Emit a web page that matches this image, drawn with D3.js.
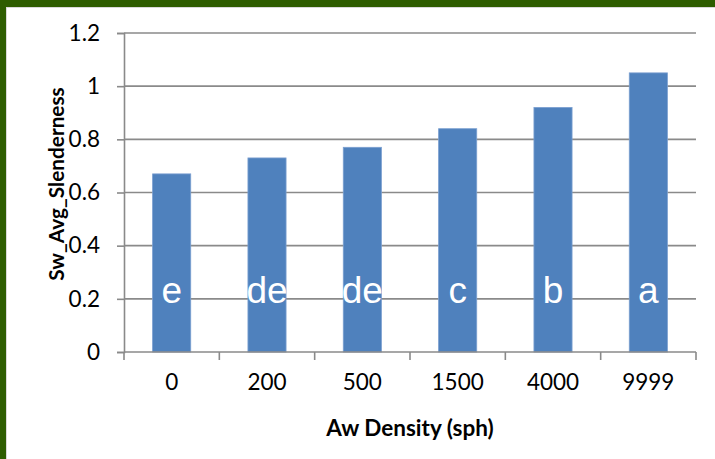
<!DOCTYPE html>
<html>
<head>
<meta charset="utf-8">
<script src="https://cdn.jsdelivr.net/npm/d3@7"></script>
<style>
  html, body { margin: 0; padding: 0; background: #ffffff; }
  svg { display: block; }
</style>
</head>
<body>
<svg id="chart" width="715" height="459"></svg>
<script>
// Aw density classes and mean slenderness of the Sw trees
const densities = ["0", "200", "500", "1500", "4000", "9999"];
const slenderness = [0.67, 0.73, 0.77, 0.84, 0.92, 1.05];
// Significance groups shown inside each bar
const groups = ["e", "de", "de", "c", "b", "a"];
const yTicks = [0, 0.2, 0.4, 0.6, 0.8, 1, 1.2];

const W = 715, H = 459;
const plot = { left: 124, right: 696, top: 33, bottom: 352 };

const svg = d3.select("#chart");

// frame
svg.append("rect").attr("x", 0).attr("y", 0).attr("width", W).attr("height", H).attr("fill", "#2e5d00");
svg.append("rect").attr("x", 6).attr("y", 7).attr("width", W - 6).attr("height", H - 7).attr("fill", "#d9d9d9");
svg.append("rect").attr("x", 7).attr("y", 8).attr("width", W - 7).attr("height", H - 8).attr("fill", "#ffffff");

const x = d3.scaleBand().domain(densities).range([plot.left, plot.right]).paddingInner(0.6).paddingOuter(0.3);
const xCat = d3.scaleBand().domain(densities).range([plot.left, plot.right]);
const y = d3.scaleLinear().domain([0, 1.2]).range([plot.bottom, plot.top]);

const axisColor = "#8a8a8a";
const tickFont = "Lato, 'Open Sans', sans-serif";

// gridlines
svg.append("g")
  .selectAll("line")
  .data(yTicks.filter(d => d > 0))
  .join("line")
  .attr("x1", plot.left).attr("x2", plot.right)
  .attr("y1", d => y(d)).attr("y2", d => y(d))
  .attr("stroke", axisColor).attr("stroke-width", 1.6);

// y axis
const yAxis = svg.append("g")
  .attr("transform", `translate(${plot.left},0)`)
  .call(d3.axisLeft(y).tickValues(yTicks).tickSize(7).tickPadding(17).tickFormat(d3.format("~g")));
yAxis.select(".domain").attr("stroke", axisColor).attr("stroke-width", 1.6);
yAxis.selectAll(".tick line").attr("stroke", axisColor).attr("stroke-width", 1.6);
yAxis.selectAll(".tick text")
  .attr("font-family", tickFont).attr("font-size", 22.5).attr("fill", "#000");

// bars
svg.append("g")
  .selectAll("rect")
  .data(slenderness)
  .join("rect")
  .attr("x", (d, i) => x(densities[i]))
  .attr("width", x.bandwidth())
  .attr("y", d => y(d))
  .attr("height", d => y(0) - y(d))
  .attr("fill", "#4f81bd")
  .attr("stroke", "#7b9fd0").attr("stroke-width", 0.8);

// x axis with category boundary ticks
const xg = svg.append("g");
xg.append("line")
  .attr("x1", plot.left).attr("x2", plot.right)
  .attr("y1", plot.bottom).attr("y2", plot.bottom)
  .attr("stroke", axisColor).attr("stroke-width", 1.6);
const bounds = densities.map(d => xCat(d)).concat([plot.right]);
xg.selectAll("line.tick")
  .data(bounds)
  .join("line")
  .attr("class", "tick")
  .attr("x1", d => d).attr("x2", d => d)
  .attr("y1", plot.bottom).attr("y2", plot.bottom + 8)
  .attr("stroke", axisColor).attr("stroke-width", 1.6);
xg.selectAll("text")
  .data(densities)
  .join("text")
  .attr("x", d => xCat(d) + xCat.bandwidth() / 2)
  .attr("y", 390)
  .attr("text-anchor", "middle")
  .attr("font-family", tickFont).attr("font-size", 22.5).attr("fill", "#000")
  .text(d => d);

// group letters
svg.append("g")
  .selectAll("text")
  .data(groups)
  .join("text")
  .attr("x", (d, i) => x(densities[i]) + x.bandwidth() / 2)
  .attr("y", 303)
  .attr("text-anchor", "middle")
  .attr("font-family", "'Liberation Sans', Arial, sans-serif")
  .attr("font-size", 37)
  .attr("fill", "#ffffff")
  .text(d => d);

// axis titles
svg.append("text")
  .attr("x", (plot.left + plot.right) / 2)
  .attr("y", 436)
  .attr("text-anchor", "middle")
  .attr("font-family", tickFont).attr("font-weight", "bold").attr("font-size", 22.5)
  .text("Aw Density (sph)");

svg.append("text")
  .attr("transform", `translate(64,184) rotate(-90)`)
  .attr("text-anchor", "middle")
  .attr("font-family", tickFont).attr("font-weight", "bold").attr("font-size", 20.8)
  .text("Sw_Avg_Slenderness");
</script>
</body>
</html>
